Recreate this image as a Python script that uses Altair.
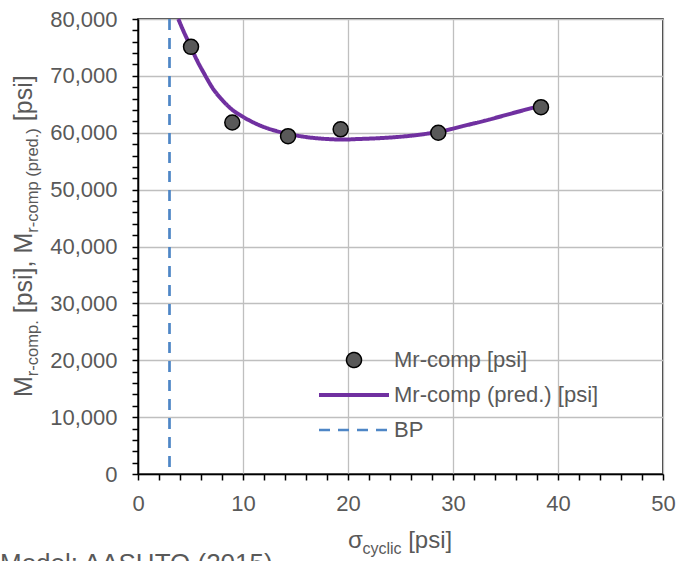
import altair as alt
import pandas as pd

# ---------------- data ----------------
x_obs = [5.05, 8.98, 14.29, 19.3, 28.6, 38.38]
y_obs = [75100, 61800, 59400, 60600, 60000, 64500]

x_pred = [3.84, 4.3, 5.0, 5.6, 6.3, 7.2, 8.0, 9.0, 10.0, 11.0, 12.0, 13.0, 14.3,
          16.0, 18.0, 19.5, 21.0, 23.0, 25.0, 27.0, 29.0, 31.0, 33.0, 35.0, 37.0, 38.4]
y_pred = [80000, 78000, 75200, 72800, 70400, 67600, 65800, 64000, 62800, 61800, 61000,
          60400, 59800, 59250, 58900, 58800, 58900, 59050, 59300, 59700, 60300, 61200,
          62100, 63100, 64100, 64800]

bp_x = [3, 3]
bp_y = [80000, 0]

series = ["Mr-comp [psi]", "Mr-comp (pred.) [psi]", "BP"]
fill_colors = ["#595959", "transparent", "transparent"]
stroke_colors = ["#000000", "#7030A0", "#4E86C6"]
shapes = ["circle", "stroke", "stroke"]
sizes = [225, 4900, 4900]
stroke_widths = [1.5, 4.0, 2.7]
dashes = [[1, 0], [1, 0], [11, 8]]

x_ticks = list(range(0, 51, 2))
y_ticks = list(range(0, 80001, 2000))

FONT = "Liberation Sans"
GREY = "#595959"

obs = pd.DataFrame({"x": x_obs, "y": y_obs, "s": series[0]})
pred = pd.DataFrame({"x": x_pred, "y": y_pred, "s": series[1]})
bp = pd.DataFrame({"x": bp_x, "y": bp_y, "s": series[2], "o": [0, 1]})

legend = alt.Legend(
    title=None, orient="none", legendX=179, legendY=330, padding=0,
    labelFont=FONT, labelFontSize=22, labelColor=GREY, rowPadding=13,
    clipHeight=22, labelOffset=3, labelLimit=400,
)

fill_scale = alt.Scale(domain=series, range=fill_colors)
stroke_scale = alt.Scale(domain=series, range=stroke_colors)
shape_scale = alt.Scale(domain=series, range=shapes)
size_scale = alt.Scale(type="ordinal", domain=series, range=sizes)
sw_scale = alt.Scale(type="ordinal", domain=series, range=stroke_widths)
dash_scale = alt.Scale(domain=series, range=dashes)

grid_x = {"condition": {"test": "datum.value % 10 === 0", "value": 1}, "value": 0}
grid_y = {"condition": {"test": "datum.value % 10000 === 0", "value": 1}, "value": 0}

x_axis = alt.Axis(
    values=x_ticks, title=None, labelFlush=False,
    labelExpr="datum.value % 10 === 0 ? format(datum.value, 'd') : ''",
    gridOpacity=grid_x, labelPadding=13,
)
y_axis = alt.Axis(
    values=y_ticks, title=None, labelFlush=False,
    labelExpr="datum.value % 10000 === 0 ? format(datum.value, ',') : ''",
    gridOpacity=grid_y, labelPadding=15,
)

X = alt.X("x:Q", scale=alt.Scale(domain=[0, 50], nice=False), axis=x_axis)
Y = alt.Y("y:Q", scale=alt.Scale(domain=[0, 80000], nice=False), axis=y_axis)

bp_layer = alt.Chart(bp).mark_line().encode(
    x=X, y=Y, order="o:Q",
    stroke=alt.Stroke("s:N", scale=stroke_scale, legend=legend),
    strokeDash=alt.StrokeDash("s:N", scale=dash_scale, legend=legend),
    strokeWidth=alt.StrokeWidth("s:N", scale=sw_scale, legend=legend),
)

pred_layer = alt.Chart(pred).mark_line(interpolate="monotone").encode(
    x=X, y=Y,
    stroke=alt.Stroke("s:N", scale=stroke_scale, legend=legend),
    strokeDash=alt.StrokeDash("s:N", scale=dash_scale, legend=legend),
    strokeWidth=alt.StrokeWidth("s:N", scale=sw_scale, legend=legend),
)

obs_layer = alt.Chart(obs).mark_point(filled=True, opacity=1).encode(
    x=X, y=Y,
    fill=alt.Fill("s:N", scale=fill_scale, legend=legend),
    stroke=alt.Stroke("s:N", scale=stroke_scale, legend=legend),
    shape=alt.Shape("s:N", scale=shape_scale, legend=legend),
    size=alt.Size("s:N", scale=size_scale, legend=legend),
    strokeWidth=alt.StrokeWidth("s:N", scale=sw_scale, legend=legend),
)


def txt(text, x, y, size, dx=0, dy=0, angle=0):
    return alt.Chart(alt.Data(values=[{}])).mark_text(
        text=text, font=FONT, fontSize=size, color=GREY, align="left",
        baseline="alphabetic", dx=dx, dy=dy, angle=angle,
    ).encode(x=alt.value(x), y=alt.value(y))


# y-axis title with subscripts (reads bottom to top)
YT_X, YT_Y = -106, 378
BIG, SUB = 25, 16.5
ytitle = [
    txt("M", YT_X, YT_Y, BIG, dx=0, angle=270),
    txt("r-comp.", YT_X, YT_Y, SUB, dx=20.8, dy=6, angle=270),
    txt("[psi], M", YT_X, YT_Y, BIG, dx=83.7, angle=270),
    txt("r-comp (pred.)", YT_X, YT_Y, SUB, dx=164.3, dy=6, angle=270),
    txt("[psi]", YT_X, YT_Y, BIG, dx=275.8, angle=270),
]

# x-axis title with subscript
XT_X, XT_Y = 210, 529
xtitle = [
    txt("σ", XT_X, XT_Y, 24),
    txt("cyclic", XT_X, XT_Y, 16, dx=14.4, dy=6),
    txt("[psi]", XT_X, XT_Y, 24, dx=60.2),
]

note = txt("Model: AASHTO (2015)", -138, 553, 26)

chart = alt.layer(
    bp_layer, pred_layer, obs_layer, *ytitle, *xtitle, note
).properties(
    width=525, height=455,
    padding={"left": 138, "top": 19, "right": 13, "bottom": 87},
    autosize=alt.AutoSizeParams(type="none"),
).configure_view(
    stroke="#000000", strokeWidth=1.5,
).configure_axis(
    labelFont=FONT, labelFontSize=22, labelColor=GREY,
    domainColor="#000000", domainWidth=1.5,
    tickColor="#000000", tickWidth=1.5, tickSize=6,
    gridColor="#BFBFBF", gridWidth=1.3,
)

chart.save("out.html", embed_options={"renderer": "svg", "actions": False})
